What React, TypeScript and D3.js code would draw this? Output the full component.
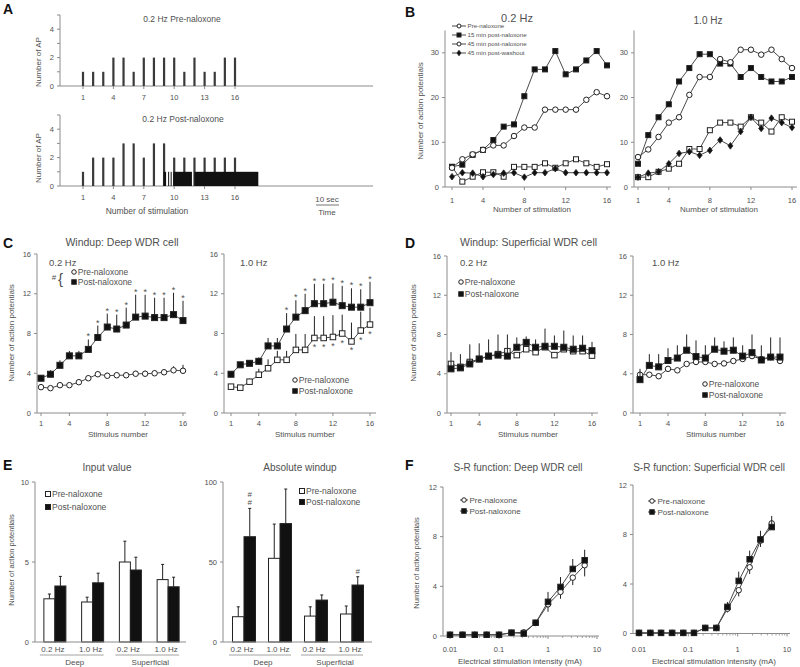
import React from 'react';
import * as d3 from 'd3';

const FONT = '"Liberation Sans", Arial, Helvetica, sans-serif';
const TXT = '#505050';
const AXC = '#8c8c8c';
const INK = '#222222';
const LINE = '#4a4a4a';

// ---------- Panel A: raster (number of AP per stimulus) ----------
const aStimuli = [1, 2, 3, 4, 5, 6, 7, 8, 9, 10, 11, 12, 13, 14, 15, 16];
const aPreAP = [1, 1, 1, 2, 2, 1, 2, 2, 2, 2, 1, 2, 1, 1, 2, 2];
const aPostAP = [1, 2, 2, 2, 3, 3, 2, 3, 3, 2, 2, 2, 2, 2, 2, 2];
const aAfterDischarge = [[8.95, 9.2], [9.4, 9.5], [9.65, 9.75], [9.9, 11.75], [12.0, 18.3]];
const aXTicks = [1, 4, 7, 10, 13, 16];
const aYTicks = [0, 1, 2, 3, 4, 5];
const aYLabels = [0, 2, 4];

// ---------- Panel B: single-cell windup ----------
const stimulus = [1, 2, 3, 4, 5, 6, 7, 8, 9, 10, 11, 12, 13, 14, 15, 16];
const bPre02 = [4.5, 1.2, 2.3, 3.3, 3.3, 2.3, 4.5, 4.5, 4.5, 5.3, 4.3, 5.3, 6.2, 5.3, 4.5, 5.1];
const b15min02 = [4.5, 5.0, 7.2, 8.3, 10.5, 13.5, 14.0, 20.3, 26.3, 26.3, 30.4, 25.2, 26.3, 28.3, 30.4, 27.2];
const b45min02 = [4.3, 6.2, 7.3, 8.3, 9.3, 9.3, 11.4, 13.3, 13.3, 17.3, 17.3, 17.3, 17.3, 19.5, 21.2, 20.3];
const bWash02 = [2.3, 3.2, 3.1, 2.3, 2.8, 3.1, 3.2, 2.2, 3.2, 3.2, 4.1, 3.2, 3.2, 3.2, 3.2, 3.2];
const bPre10 = [2.2, 2.2, 3.4, 4.1, 5.2, 8.5, 8.5, 12.7, 14.4, 14.4, 13.5, 15.6, 14.4, 12.4, 15.6, 14.6];
const b15min10 = [5.2, 11.6, 15.6, 18.5, 23.6, 26.6, 29.7, 29.7, 27.6, 27.6, 24.6, 26.6, 24.6, 23.6, 23.6, 24.6];
const b45min10 = [6.7, 8.4, 11.2, 14.4, 15.6, 20.6, 24.6, 24.6, 28.6, 27.9, 30.7, 30.7, 29.6, 30.7, 28.6, 26.6];
const bWash10 = [2.2, 3.1, 3.4, 5.2, 7.5, 7.9, 7.1, 8.2, 10.5, 9.2, 12.4, 15.6, 13.1, 15.4, 14.4, 13.3];
const bLegend = ['Pre-naloxone', '15 min post-naloxone', '45 min post-naloxone', '45 min post-washout'];
const bYTicks = [0, 10, 20, 30];
const stimTicks = [1, 4, 8, 12, 16];

// ---------- Panel C: deep WDR windup ----------
const cPost02 = [3.5, 3.9, 4.8, 5.75, 5.75, 6.4, 7.6, 8.65, 8.45, 8.85, 9.65, 9.75, 9.6, 9.6, 9.9, 9.3];
const cPost02Err = [0.3, 0.4, 0.5, 0.5, 0.5, 1.0, 1.2, 1.35, 1.45, 1.75, 2.25, 2.15, 2.0, 2.0, 2.2, 2.0];
const cPre02 = [2.6, 2.5, 2.8, 2.8, 3.1, 3.5, 3.9, 3.75, 3.8, 3.8, 3.95, 3.95, 4.0, 4.1, 4.3, 4.25];
const cPre02Err = [0.2, 0.2, 0.2, 0.2, 0.3, 0.3, 0.3, 0.3, 0.3, 0.3, 0.3, 0.3, 0.3, 0.3, 0.4, 0.6];
const cStars02 = [6, 7, 8, 9, 10, 11, 12, 13, 14, 15, 16];
const cPost10 = [3.9, 4.85, 5.0, 5.2, 6.75, 6.75, 8.45, 9.65, 10.3, 11.0, 11.0, 11.15, 10.8, 10.65, 10.65, 11.1];
const cPost10Err = [0.3, 0.3, 0.3, 0.4, 0.8, 0.8, 1.6, 1.7, 1.7, 2.0, 2.0, 1.9, 2.0, 1.9, 1.8, 2.1];
const cPre10 = [2.65, 2.55, 3.15, 3.85, 4.5, 5.35, 5.35, 6.35, 6.35, 7.55, 7.55, 7.65, 8.0, 7.2, 8.3, 8.9];
const cPre10Err = [0.2, 0.2, 0.3, 0.6, 0.9, 0.9, 0.9, 1.6, 1.6, 2.2, 2.2, 2.2, 1.9, 1.9, 1.9, 1.7];
const cStarsPost10 = [7, 8, 9, 10, 11, 12, 13, 14, 15, 16];
const cStarsPre10 = [10, 11, 12, 13, 14, 15, 16];
const windupYTicks = [0, 4, 8, 12, 16];

// ---------- Panel D: superficial WDR windup ----------
const dPost02 = [4.5, 4.6, 5.0, 5.5, 5.8, 5.9, 5.8, 6.7, 7.2, 6.7, 6.8, 6.8, 6.7, 6.5, 6.6, 6.35];
const dPost02Err = [1.7, 1.4, 2.0, 1.6, 1.7, 2.1, 2.2, 1.0, 0.6, 0.8, 1.8, 1.1, 1.7, 1.4, 1.3, 0.9];
const dPre02 = [5.0, 4.7, 5.2, 5.5, 5.8, 6.0, 6.3, 5.9, 6.5, 6.2, 6.7, 5.9, 6.5, 6.3, 6.3, 5.85];
const dPost10 = [3.4, 4.85, 4.7, 5.35, 5.6, 6.4, 5.75, 5.6, 6.5, 6.3, 6.4, 5.8, 6.15, 5.4, 5.7, 5.7];
const dPost10Err = [1.1, 1.15, 1.3, 1.25, 1.3, 1.6, 1.65, 1.3, 1.2, 1.0, 1.3, 1.1, 1.85, 1.5, 2.0, 2.0];
const dPre10 = [3.9, 3.9, 3.75, 4.5, 4.35, 5.0, 5.2, 5.2, 5.0, 5.05, 5.3, 5.5, 5.8, 5.5, 5.7, 5.3];

// ---------- Panel E: bars ----------
const eFreqLabels = ['0.2 Hz', '1.0 Hz', '0.2 Hz', '1.0 Hz'];
const eLayerLabels = ['Deep', 'Superficial'];
const eInputPre = [2.7, 2.5, 5.0, 3.9];
const eInputPreErr = [0.3, 0.3, 1.3, 0.95];
const eInputPost = [3.5, 3.7, 4.5, 3.45];
const eInputPostErr = [0.6, 0.6, 0.8, 0.6];
const eWindupPre = [15.8, 52.3, 16.2, 17.5];
const eWindupPreErr = [6.2, 21.4, 5.8, 5.0];
const eWindupPost = [65.8, 74, 26.2, 35.6];
const eWindupPostErr = [17.7, 21.6, 3.2, 5.2];
const eWindupHashes = [2, 0, 0, 1];
const eInputTicks = [0, 5, 10];
const eWindupTicks = [0, 50, 100];

// ---------- Panel F: stimulus-response ----------
const fDeepX = [0.01, 0.018, 0.032, 0.056, 0.1, 0.18, 0.32, 0.56, 1.0, 1.8, 3.2, 5.6];
const fDeepPre = [0.1, 0.1, 0.1, 0.1, 0.1, 0.25, 0.3, 1.05, 2.55, 3.55, 4.7, 5.7];
const fDeepPreErr = [0, 0, 0, 0, 0, 0, 0.1, 0.2, 0.6, 0.55, 0.6, 0.9];
const fDeepPost = [0.1, 0.1, 0.1, 0.1, 0.1, 0.27, 0.2, 1.07, 2.75, 3.95, 5.4, 6.1];
const fDeepPostErr = [0, 0, 0, 0, 0, 0.1, 0.1, 0.2, 0.8, 0.8, 0.8, 0.85];
const fSupX = [0.01, 0.017, 0.028, 0.047, 0.079, 0.13, 0.22, 0.37, 0.62, 1.05, 1.75, 2.9, 4.9];
const fSupPre = [0.05, 0.05, 0.05, 0.05, 0.05, 0.05, 0.45, 0.45, 2.0, 3.5, 5.35, 7.5, 8.9];
const fSupPreErr = [0, 0, 0, 0, 0, 0, 0.1, 0.1, 0.3, 0.5, 0.55, 0.5, 0.5];
const fSupPost = [0.05, 0.05, 0.05, 0.05, 0.05, 0.05, 0.45, 0.45, 2.15, 4.25, 6.0, 7.6, 8.6];
const fSupPostErr = [0, 0, 0, 0, 0, 0, 0.1, 0.1, 0.4, 0.75, 0.7, 0.7, 0.9];
const fYTicks = [0, 4, 8, 12];
const fXTicks = [0.01, 0.1, 1, 10];

type Lin = d3.ScaleLinear<number, number>;
type Shape = 'circle' | 'square' | 'diamond';

function Marker({ shape, filled, x, y, s }: { shape: Shape; filled: boolean; x: number; y: number; s: number }) {
  const fill = filled ? '#111' : '#fff';
  if (shape === 'circle') return <circle cx={x} cy={y} r={s / 2} fill={fill} stroke={INK} strokeWidth={1} />;
  if (shape === 'square')
    return <rect x={x - s / 2} y={y - s / 2} width={s} height={s} fill={fill} stroke={INK} strokeWidth={1} />;
  const h = s / 2;
  return <path d={`M${x},${y - h - 0.8}L${x + h},${y}L${x},${y + h + 0.8}L${x - h},${y}Z`} fill={fill} stroke={INK} strokeWidth={0.8} />;
}

function Series({ xs, ys, x, y, shape, filled, s, errUp, errDown }: {
  xs: number[]; ys: number[]; x: (v: number) => number; y: Lin; shape: Shape; filled: boolean; s: number;
  errUp?: number[]; errDown?: number[];
}) {
  const line = d3.line<number>().x((_, i) => x(xs[i])).y((v) => y(v));
  return (
    <g>
      {errUp && ys.map((v, i) => errUp[i] > 0 ? (
        <line key={'eu' + i} x1={x(xs[i])} x2={x(xs[i])} y1={y(v)} y2={y(v + errUp[i])} stroke={INK} strokeWidth={1} />
      ) : null)}
      {errDown && ys.map((v, i) => errDown[i] > 0 ? (
        <line key={'ed' + i} x1={x(xs[i])} x2={x(xs[i])} y1={y(v)} y2={y(v - errDown[i])} stroke={INK} strokeWidth={1} />
      ) : null)}
      <path d={line(ys) || ''} fill="none" stroke={LINE} strokeWidth={1} />
      {ys.map((v, i) => <Marker key={i} shape={shape} filled={filled} x={x(xs[i])} y={y(v)} s={s} />)}
    </g>
  );
}

function YAxis({ x, y, ticks, labels, fs = 7.5 }: { x: number; y: Lin; ticks: number[]; labels?: number[]; fs?: number }) {
  const [r0, r1] = y.range();
  const labs = labels ?? ticks;
  return (
    <g>
      <line x1={x} x2={x} y1={r0} y2={r1} stroke={AXC} strokeWidth={1} />
      {ticks.map((t) => <line key={t} x1={x - 3} x2={x} y1={y(t)} y2={y(t)} stroke={AXC} strokeWidth={1} />)}
      {labs.map((t) => (
        <text key={'l' + t} x={x - 6} y={y(t)} dy="0.35em" textAnchor="end" fontSize={fs} fill={TXT}>{t}</text>
      ))}
    </g>
  );
}

function XAxis({ y, x0, x1, x, ticks, labelY, fmt, fs = 7.5, minor }: {
  y: number; x0: number; x1: number; x: (v: number) => number; ticks: number[]; labelY: number;
  fmt?: (v: number) => string; fs?: number; minor?: number[];
}) {
  return (
    <g>
      <line x1={x0} x2={x1} y1={y} y2={y} stroke={AXC} strokeWidth={1} />
      {ticks.map((t) => <line key={t} x1={x(t)} x2={x(t)} y1={y} y2={y + 3} stroke={AXC} strokeWidth={1} />)}
      {minor && minor.map((t, i) => <line key={'m' + i} x1={x(t)} x2={x(t)} y1={y} y2={y + 2} stroke={AXC} strokeWidth={0.8} />)}
      {ticks.map((t) => (
        <text key={'l' + t} x={x(t)} y={labelY} textAnchor="middle" fontSize={fs} fill={TXT}>{fmt ? fmt(t) : t}</text>
      ))}
    </g>
  );
}

function YLabel({ x, y, text, fs = 8 }: { x: number; y: number; text: string; fs?: number }) {
  return <text transform={`translate(${x},${y}) rotate(-90)`} textAnchor="middle" fontSize={fs} fill={TXT}>{text}</text>;
}

function T({ x, y, children, fs = 8, anchor = 'middle', fill = TXT, weight }: any) {
  return <text x={x} y={y} fontSize={fs} textAnchor={anchor} fill={fill} fontWeight={weight}>{children}</text>;
}

function Letter({ x, y, c }: { x: number; y: number; c: string }) {
  return <text x={x} y={y} fontSize={14} fontWeight="bold" fill="#111">{c}</text>;
}

function LegendRow({ x, y, shape, filled, s, text, fs = 8, lineLen = 0 }: any) {
  return (
    <g>
      {lineLen > 0 && <line x1={x - lineLen / 2} x2={x + lineLen / 2} y1={y} y2={y} stroke={LINE} strokeWidth={1} />}
      <Marker shape={shape} filled={filled} x={x} y={y} s={s} />
      <text x={x + Math.max(s / 2, lineLen / 2) + 1.5} y={y} dy="0.35em" fontSize={fs} fill={TXT}>{text}</text>
    </g>
  );
}

function Stars({ xs, ys, x, y, dy }: { xs: number[]; ys: number[]; x: (v: number) => number; y: Lin; dy: number }) {
  return <g>{xs.map((s, i) => <text key={i} x={x(s)} y={y(ys[i]) + dy} textAnchor="middle" fontSize={9} fill={TXT}>*</text>)}</g>;
}

function logMinor(lo: number, hi: number) {
  const out: number[] = [];
  for (let e = lo; e < hi; e++) for (let m = 2; m <= 9; m++) out.push(m * Math.pow(10, e));
  return out;
}

export default function App() {
  // ---- A ----
  const xA = d3.scaleLinear().domain([1, 16]).range([83, 235]);
  const yAtop = d3.scaleLinear().domain([0, 5]).range([86, 15]);
  const yAbot = d3.scaleLinear().domain([0, 5]).range([186, 115]);

  // ---- B ----
  const yB = d3.scaleLinear().domain([0, 35]).range([187, 30.5]);
  const xBL = d3.scaleLinear().domain([1, 16]).range([452, 607]);
  const xBR = d3.scaleLinear().domain([1, 16]).range([638, 792]);

  // ---- C ----
  const yC = d3.scaleLinear().domain([0, 16]).range([413, 254]);
  const xCL = d3.scaleLinear().domain([1, 16]).range([41, 183]);
  const xCR = d3.scaleLinear().domain([1, 16]).range([231, 370]);

  // ---- D ----
  const yD = d3.scaleLinear().domain([0, 16]).range([413, 256]);
  const xDL = d3.scaleLinear().domain([1, 16]).range([451, 592]);
  const xDR = d3.scaleLinear().domain([1, 16]).range([640, 780]);

  // ---- E ----
  const yEL = d3.scaleLinear().domain([0, 10]).range([642, 482]);
  const yER = d3.scaleLinear().domain([0, 100]).range([642, 482]);
  const groups = [0, 1, 2, 3];
  const xEL = d3.scaleBand<number>().domain(groups).range([36, 187]);
  const xER = d3.scaleBand<number>().domain(groups).range([226, 370]);

  // ---- F ----
  const yFL = d3.scaleLinear().domain([0, 12]).range([636, 487]);
  const yFR = d3.scaleLinear().domain([0, 12]).range([633.5, 485]);
  const xFL = d3.scaleLog().domain([0.01, 10]).range([450, 597]);
  const xFR = d3.scaleLog().domain([0.01, 10]).range([639, 787]);
  const minor = logMinor(-2, 1);

  const raster = (vals: number[], y: Lin) => (
    <g>
      {vals.map((v, i) => (
        <rect key={i} x={xA(aStimuli[i]) - 1.1} y={y(v)} width={2.2} height={y(0) - y(v)} fill="#3a3a3a" />
      ))}
    </g>
  );

  const bars = (
    xb: d3.ScaleBand<number>, y: Lin, pre: number[], preErr: number[], post: number[], postErr: number[], bw: number,
  ) => (
    <g>
      {groups.map((g) => {
        const c = (xb(g) as number) + xb.bandwidth() / 2;
        const px = c - bw;
        const qx = c;
        return (
          <g key={g}>
            <rect x={px} y={y(pre[g])} width={bw} height={y(0) - y(pre[g])} fill="#fff" stroke={INK} strokeWidth={1} />
            <line x1={px + bw / 2} x2={px + bw / 2} y1={y(pre[g])} y2={y(pre[g] + preErr[g])} stroke={INK} />
            <line x1={px + bw / 2 - 1.5} x2={px + bw / 2 + 1.5} y1={y(pre[g] + preErr[g])} y2={y(pre[g] + preErr[g])} stroke={INK} />
            <rect x={qx} y={y(post[g])} width={bw} height={y(0) - y(post[g])} fill="#111" stroke={INK} strokeWidth={1} />
            <line x1={qx + bw / 2} x2={qx + bw / 2} y1={y(post[g])} y2={y(post[g] + postErr[g])} stroke={INK} />
            <line x1={qx + bw / 2 - 1.5} x2={qx + bw / 2 + 1.5} y1={y(post[g] + postErr[g])} y2={y(post[g] + postErr[g])} stroke={INK} />
          </g>
        );
      })}
    </g>
  );

  const groupLabels = (xb: d3.ScaleBand<number>, x0: number, x1: number, y0: number) => {
    const c = (g: number) => (xb(g) as number) + xb.bandwidth() / 2;
    return (
      <g>
        <line x1={x0} x2={x1} y1={y0} y2={y0} stroke={AXC} />
        {groups.map((g) => <T key={g} x={c(g) - 2} y={652} fs={8}>{eFreqLabels[g]}</T>)}
        {eLayerLabels.map((l, j) => (
          <g key={l}>
            <line x1={c(2 * j) - 15} x2={c(2 * j + 1) + 11} y1={655} y2={655} stroke={AXC} strokeWidth={0.8} />
            <T x={(c(2 * j) + c(2 * j + 1)) / 2 + 1} y={665} fs={8}>{l}</T>
          </g>
        ))}
      </g>
    );
  };

  return (
    <svg width={800} height={667} style={{ position: 'absolute', left: 0, top: 0, background: '#fff' }} fontFamily={FONT}>
      <rect width={800} height={667} fill="#fff" />

      {/* ===== A ===== */}
      <Letter x={3} y={14} c="A" />
      <T x={182} y={22} fs={8.5}>0.2 Hz Pre-naloxone</T>
      <YAxis x={60} y={yAtop} ticks={aYTicks} labels={aYLabels} />
      <XAxis y={86} x0={60} x1={373} x={xA} ticks={aXTicks} labelY={100} />
      {raster(aPreAP, yAtop)}
      <YLabel x={41} y={62} text="Number of AP" fs={8} />

      <T x={183} y={122} fs={8.5}>0.2 Hz Post-naloxone</T>
      <YAxis x={60} y={yAbot} ticks={aYTicks} labels={aYLabels} />
      <XAxis y={186} x0={60} x1={373} x={xA} ticks={aXTicks} labelY={200} />
      {raster(aPostAP, yAbot)}
      {aAfterDischarge.map(([s0, s1], i) => (
        <rect key={i} x={xA(s0)} y={yAbot(1)} width={xA(s1) - xA(s0)} height={yAbot(0) - yAbot(1)} fill="#111" />
      ))}
      <YLabel x={41} y={158} text="Number of AP" fs={8} />
      <T x={147} y={214} fs={8.5}>Number of stimulation</T>
      <T x={327} y={202} fs={8}>10 sec</T>
      <line x1={316} x2={339} y1={205} y2={205} stroke={TXT} strokeWidth={0.8} />
      <T x={327} y={215} fs={8}>Time</T>

      {/* ===== B ===== */}
      <Letter x={405} y={17} c="B" />
      <T x={517} y={22} fs={11}>0.2 Hz</T>
      <T x={708} y={24} fs={10}>1.0 Hz</T>
      <YAxis x={445} y={yB} ticks={bYTicks} />
      <XAxis y={187} x0={445} x1={611} x={xBL} ticks={stimTicks} labelY={203} />
      <YAxis x={634} y={yB} ticks={bYTicks} />
      <XAxis y={187} x0={634} x1={797} x={xBR} ticks={stimTicks} labelY={203} />
      <YLabel x={423} y={111} text="Number of action potentials" fs={8} />
      <T x={532} y={212} fs={8}>Number of stimulation</T>
      <T x={719} y={212} fs={8}>Number of stimulation</T>
      <Series xs={stimulus} ys={bPre02} x={xBL} y={yB} shape="square" filled={false} s={5} />
      <Series xs={stimulus} ys={bWash02} x={xBL} y={yB} shape="diamond" filled={true} s={5} />
      <Series xs={stimulus} ys={b15min02} x={xBL} y={yB} shape="square" filled={true} s={5} />
      <Series xs={stimulus} ys={b45min02} x={xBL} y={yB} shape="circle" filled={false} s={5.5} />
      <Series xs={stimulus} ys={bPre10} x={xBR} y={yB} shape="square" filled={false} s={5} />
      <Series xs={stimulus} ys={bWash10} x={xBR} y={yB} shape="diamond" filled={true} s={5} />
      <Series xs={stimulus} ys={b15min10} x={xBR} y={yB} shape="square" filled={true} s={5} />
      <Series xs={stimulus} ys={b45min10} x={xBR} y={yB} shape="circle" filled={false} s={5.5} />
      <LegendRow x={459} y={26} shape="circle" filled={false} s={4} text={bLegend[0]} fs={6.2} lineLen={14} />
      <LegendRow x={459} y={35} shape="square" filled={true} s={4} text={bLegend[1]} fs={6.2} lineLen={14} />
      <LegendRow x={459} y={44} shape="circle" filled={false} s={4} text={bLegend[2]} fs={6.2} lineLen={14} />
      <LegendRow x={459} y={53} shape="diamond" filled={true} s={4} text={bLegend[3]} fs={6.2} lineLen={14} />

      {/* ===== C ===== */}
      <Letter x={3} y={248} c="C" />
      <T x={122} y={246} fs={10.5}>Windup: Deep WDR cell</T>
      <YAxis x={37} y={yC} ticks={windupYTicks} />
      <XAxis y={413} x0={37} x1={186} x={xCL} ticks={stimTicks} labelY={426} />
      <YAxis x={224} y={yC} ticks={windupYTicks} />
      <XAxis y={413} x0={224} x1={376} x={xCR} ticks={stimTicks} labelY={426} />
      <YLabel x={14} y={333} text="Number of action potentials" fs={8} />
      <T x={118} y={437} fs={8}>Stimulus number</T>
      <T x={305} y={437} fs={8}>Stimulus number</T>
      <T x={49} y={266} fs={9.5} anchor="start">0.2 Hz</T>
      <T x={240} y={266} fs={9.5} anchor="start">1.0 Hz</T>
      <Series xs={stimulus} ys={cPre02} x={xCL} y={yC} shape="circle" filled={false} s={5.5} errUp={cPre02Err} />
      <Series xs={stimulus} ys={cPost02} x={xCL} y={yC} shape="square" filled={true} s={6} errUp={cPost02Err} />
      <Stars xs={cStars02} ys={cStars02.map((s) => cPost02[s - 1] + cPost02Err[s - 1])} x={xCL} y={yC} dy={0} />
      <Series xs={stimulus} ys={cPre10} x={xCR} y={yC} shape="square" filled={false} s={5.5} errUp={cPre10Err} />
      <Series xs={stimulus} ys={cPost10} x={xCR} y={yC} shape="square" filled={true} s={6} errUp={cPost10Err} />
      <Stars xs={cStarsPost10} ys={cStarsPost10.map((s) => cPost10[s - 1] + cPost10Err[s - 1])} x={xCR} y={yC} dy={0} />
      <Stars xs={cStarsPre10} ys={cStarsPre10.map((s) => cPre10[s - 1])} x={xCR} y={yC} dy={12} />
      <T x={54} y={280} fs={8}>#</T>
      <text x={58} y={284} fontSize={15} fill={TXT} fontWeight={300}>{'{'}</text>
      <LegendRow x={74} y={272} shape="circle" filled={false} s={4.5} text="Pre-naloxone" fs={8.5} />
      <LegendRow x={74} y={282} shape="square" filled={true} s={4.5} text="Post-naloxone" fs={8.5} />
      <LegendRow x={295} y={380} shape="circle" filled={false} s={4.5} text="Pre-naloxone" fs={8.5} />
      <LegendRow x={295} y={391} shape="square" filled={true} s={4.5} text="Post-naloxone" fs={8.5} />

      {/* ===== D ===== */}
      <Letter x={405} y={248} c="D" />
      <T x={460} y={246} fs={10.5} anchor="start">Windup: Superficial WDR cell</T>
      <YAxis x={447} y={yD} ticks={windupYTicks} />
      <XAxis y={413} x0={447} x1={598} x={xDL} ticks={stimTicks} labelY={426} />
      <YAxis x={633} y={yD} ticks={windupYTicks} />
      <XAxis y={413} x0={633} x1={786} x={xDR} ticks={stimTicks} labelY={426} />
      <YLabel x={416} y={333} text="Number of action potentials" fs={8} />
      <T x={528} y={437} fs={8}>Stimulus number</T>
      <T x={716} y={437} fs={8}>Stimulus number</T>
      <T x={460} y={266} fs={9.5} anchor="start">0.2 Hz</T>
      <T x={652} y={266} fs={9.5} anchor="start">1.0 Hz</T>
      <Series xs={stimulus} ys={dPre02} x={xDL} y={yD} shape="square" filled={false} s={5.5} />
      <Series xs={stimulus} ys={dPost02} x={xDL} y={yD} shape="square" filled={true} s={6} errUp={dPost02Err} />
      <Series xs={stimulus} ys={dPre10} x={xDR} y={yD} shape="circle" filled={false} s={5.5} />
      <Series xs={stimulus} ys={dPost10} x={xDR} y={yD} shape="square" filled={true} s={6} errUp={dPost10Err} />
      <LegendRow x={461} y={282} shape="circle" filled={false} s={4.5} text="Pre-naloxone" fs={8.5} />
      <LegendRow x={461} y={294} shape="square" filled={true} s={4.5} text="Post-naloxone" fs={8.5} />
      <LegendRow x={705} y={384} shape="circle" filled={false} s={4.5} text="Pre-naloxone" fs={8.5} />
      <LegendRow x={705} y={395} shape="square" filled={true} s={4.5} text="Post-naloxone" fs={8.5} />

      {/* ===== E ===== */}
      <Letter x={3} y={470} c="E" />
      <T x={107} y={471} fs={10}>Input value</T>
      <T x={300} y={471} fs={10}>Absolute windup</T>
      <YAxis x={35} y={yEL} ticks={eInputTicks} />
      <YAxis x={223} y={yER} ticks={eWindupTicks} />
      <YLabel x={14} y={560} text="Number of action potentials" fs={7.5} />
      {bars(xEL, yEL, eInputPre, eInputPreErr, eInputPost, eInputPostErr, 11)}
      {bars(xER, yER, eWindupPre, eWindupPreErr, eWindupPost, eWindupPostErr, 11.5)}
      {groupLabels(xEL, 35, 186, 642)}
      {groupLabels(xER, 223, 372, 642)}
      {groups.map((g) => {
        const c = (xER(g) as number) + xER.bandwidth() / 2 + 5.75;
        const top = yER(eWindupPost[g] + eWindupPostErr[g]);
        return d3.range(eWindupHashes[g]).map((k) => (
          <T key={g + '-' + k} x={c} y={top - 3 - k * 8} fs={8}>#</T>
        ));
      })}
      <LegendRow x={48} y={494} shape="square" filled={false} s={5} text="Pre-naloxone" fs={8.5} />
      <LegendRow x={48} y={507} shape="square" filled={true} s={5} text="Post-naloxone" fs={8.5} />
      <LegendRow x={302} y={491} shape="square" filled={false} s={5} text="Pre-naloxone" fs={8.5} />
      <LegendRow x={302} y={502} shape="square" filled={true} s={5} text="Post-naloxone" fs={8.5} />

      {/* ===== F ===== */}
      <Letter x={405} y={470} c="F" />
      <T x={518} y={471} fs={10}>S-R function: Deep WDR cell</T>
      <T x={709} y={471} fs={10}>S-R function: Superficial WDR cell</T>
      <YAxis x={443} y={yFL} ticks={fYTicks} />
      <XAxis y={636} x0={443} x1={599} x={xFL} ticks={fXTicks} labelY={652} minor={minor} />
      <YAxis x={633} y={yFR} ticks={fYTicks} />
      <XAxis y={633.5} x0={633} x1={790} x={xFR} ticks={fXTicks} labelY={652} minor={minor} />
      <YLabel x={419} y={563} text="Number of action potentials" fs={7.5} />
      <T x={520} y={664} fs={8}>Electrical stimulation intensity (mA)</T>
      <T x={714} y={664} fs={8}>Electrical stimulation intensity (mA)</T>
      <Series xs={fDeepX} ys={fDeepPre} x={xFL} y={yFL} shape="circle" filled={false} s={5.5} errDown={fDeepPreErr} />
      <Series xs={fDeepX} ys={fDeepPost} x={xFL} y={yFL} shape="square" filled={true} s={5.5} errUp={fDeepPostErr} />
      <Series xs={fSupX} ys={fSupPre} x={xFR} y={yFR} shape="circle" filled={false} s={5.5} errDown={fSupPreErr} />
      <Series xs={fSupX} ys={fSupPost} x={xFR} y={yFR} shape="square" filled={true} s={5.5} errUp={fSupPostErr} />
      <LegendRow x={464} y={500} shape="circle" filled={false} s={4.5} text="Pre-naloxone" fs={8} lineLen={8} />
      <LegendRow x={464} y={511} shape="square" filled={true} s={4.5} text="Post-naloxone" fs={8} lineLen={8} />
      <LegendRow x={652} y={501} shape="circle" filled={false} s={4.5} text="Pre-naloxone" fs={8} lineLen={8} />
      <LegendRow x={652} y={512} shape="square" filled={true} s={4.5} text="Post-naloxone" fs={8} lineLen={8} />
    </svg>
  );
}
